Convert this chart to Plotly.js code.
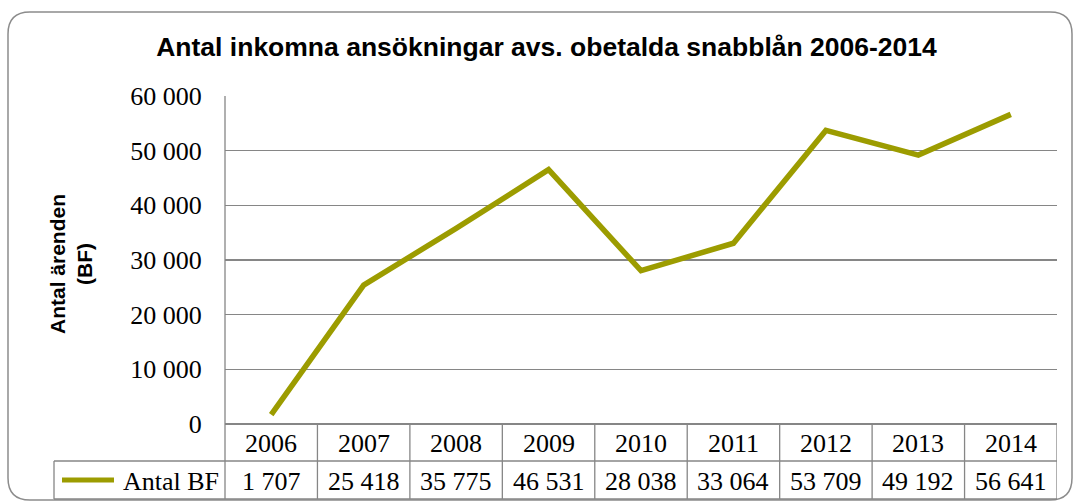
<!DOCTYPE html>
<html>
<head>
<meta charset="utf-8">
<script src="https://cdn.plot.ly/plotly-3.0.1.min.js"></script>
<style>html,body{margin:0;padding:0;background:#fff;}#chart{width:1075px;height:502px;}</style>
</head>
<body>
<div id="chart"></div>
<script>
const years = ["2006","2007","2008","2009","2010","2011","2012","2013","2014"];
const antalBF = [1707, 25418, 35775, 46531, 28038, 33064, 53709, 49192, 56641];
const seriesName = "Antal BF";
const yTickVals = [0, 10000, 20000, 30000, 40000, 50000, 60000];
const titleText = "Antal inkomna ansökningar avs. obetalda snabblån 2006-2014";
const yTitleText = "Antal ärenden<br>(BF)";

const W = 1075, H = 502;
const L = 225, R = 1057, T = 96, B = 424;
const pw = R - L, ph = B - T;
const px = v => (v - L) / pw;
const py = v => (B - v) / ph;

function fmt(n){ return String(n).replace(/\B(?=(\d{3})+(?!\d))/g, " "); }

const gridColor = "#868686";
const lineColor = "#9c9c00";
const serif = "Liberation Serif, Times New Roman, serif";
const sans = "Liberation Sans, Arial, sans-serif";
const numSize = 26;

const rowMid = 461, rowBot = 499, legL = 54;

const shapes = [];
shapes.push({type:"line", xref:"paper", yref:"paper", x0:0, x1:0, y0:1, y1:py(rowBot), line:{color:gridColor, width:1.3}});
shapes.push({type:"line", xref:"paper", yref:"paper", x0:px(legL), x1:1, y0:py(rowMid), y1:py(rowMid), line:{color:gridColor, width:1.3}});
shapes.push({type:"line", xref:"paper", yref:"paper", x0:px(legL), x1:1, y0:py(rowBot), y1:py(rowBot), line:{color:gridColor, width:1.3}});
shapes.push({type:"line", xref:"paper", yref:"paper", x0:px(legL), x1:px(legL), y0:py(rowMid), y1:py(rowBot), line:{color:gridColor, width:1.3}});
for (let i = 1; i <= years.length; i++) {
  shapes.push({type:"line", xref:"x", yref:"paper", x0:i-0.5, x1:i-0.5, y0:0, y1:py(rowBot), line:{color:gridColor, width:1.3}});
}
shapes.push({type:"line", xref:"paper", yref:"paper", x0:px(62), x1:px(114), y0:py(480), y1:py(480), line:{color:lineColor, width:5}});
(function(){
  const x0=8, y0=12, x1=1072, y1=500, r=22;
  const P = (x,y) => px(x).toFixed(5)+","+py(y).toFixed(5);
  const d = "M"+P(x0+r,y0)+" L"+P(x1-r,y0)+" Q"+P(x1,y0)+" "+P(x1,y0+r)+
            " L"+P(x1,y1-r)+" Q"+P(x1,y1)+" "+P(x1-r,y1)+
            " L"+P(x0+r,y1)+" Q"+P(x0,y1)+" "+P(x0,y1-r)+
            " L"+P(x0,y0+r)+" Q"+P(x0,y0)+" "+P(x0+r,y0)+" Z";
  shapes.push({type:"path", xref:"paper", yref:"paper", path:d, line:{color:"#8c8c8c", width:1.5}, fillcolor:"rgba(0,0,0,0)", layer:"below"});
})();

const annotations = [];
years.forEach((yr, i) => {
  const xc = px(L + (i + 0.5) * pw / years.length);
  annotations.push({xref:"paper", yref:"paper", x:xc, y:py(443), text:yr, showarrow:false, xanchor:"center", yanchor:"middle", font:{family:serif, size:numSize, color:"#000"}});
  annotations.push({xref:"paper", yref:"paper", x:xc, y:py(481), text:fmt(antalBF[i]), showarrow:false, xanchor:"center", yanchor:"middle", font:{family:serif, size:numSize, color:"#000"}});
});
annotations.push({xref:"paper", yref:"paper", x:px(221), y:py(481), text:seriesName, showarrow:false, xanchor:"right", yanchor:"middle", font:{family:serif, size:numSize, color:"#000"}});
annotations.push({xref:"paper", yref:"paper", x:px(71), y:py(264), text:"<b>"+yTitleText.replace("<br>","</b><br><b>")+"</b>", textangle:-90, showarrow:false, xanchor:"center", yanchor:"middle", font:{family:sans, size:21, color:"#000"}, align:"center"});

const data = [{
  type:"scatter", mode:"lines", x:years, y:antalBF, name:seriesName,
  line:{color:lineColor, width:5.5}, hoverinfo:"skip"
}];

const layout = {
  width:W, height:H,
  margin:{l:L, r:W-R, t:T, b:H-B, pad:0},
  paper_bgcolor:"#fff", plot_bgcolor:"#fff",
  showlegend:false,
  separators:", ",
  title:{text:"<b>"+titleText+"</b>", xref:"container", x:546.5/W, xanchor:"center", yref:"container", y:1-47/H, yanchor:"middle", font:{family:sans, size:26.5, color:"#000"}},
  xaxis:{type:"category", range:[-0.5, years.length-0.5], showticklabels:false, showgrid:false, zeroline:false, showline:false, ticks:"", fixedrange:true},
  yaxis:{range:[0,60000], tickvals:yTickVals, tickformat:",d", showgrid:true, gridcolor:gridColor, gridwidth:1.3, zeroline:true, zerolinecolor:gridColor, zerolinewidth:1.3, showline:false, ticks:"outside", ticklen:17, tickcolor:"rgba(0,0,0,0)", tickfont:{family:serif, size:numSize, color:"#000"}, fixedrange:true},
  shapes:shapes,
  annotations:annotations
};

Plotly.newPlot("chart", data, layout, {staticPlot:true, displayModeBar:false});
</script>
</body>
</html>
